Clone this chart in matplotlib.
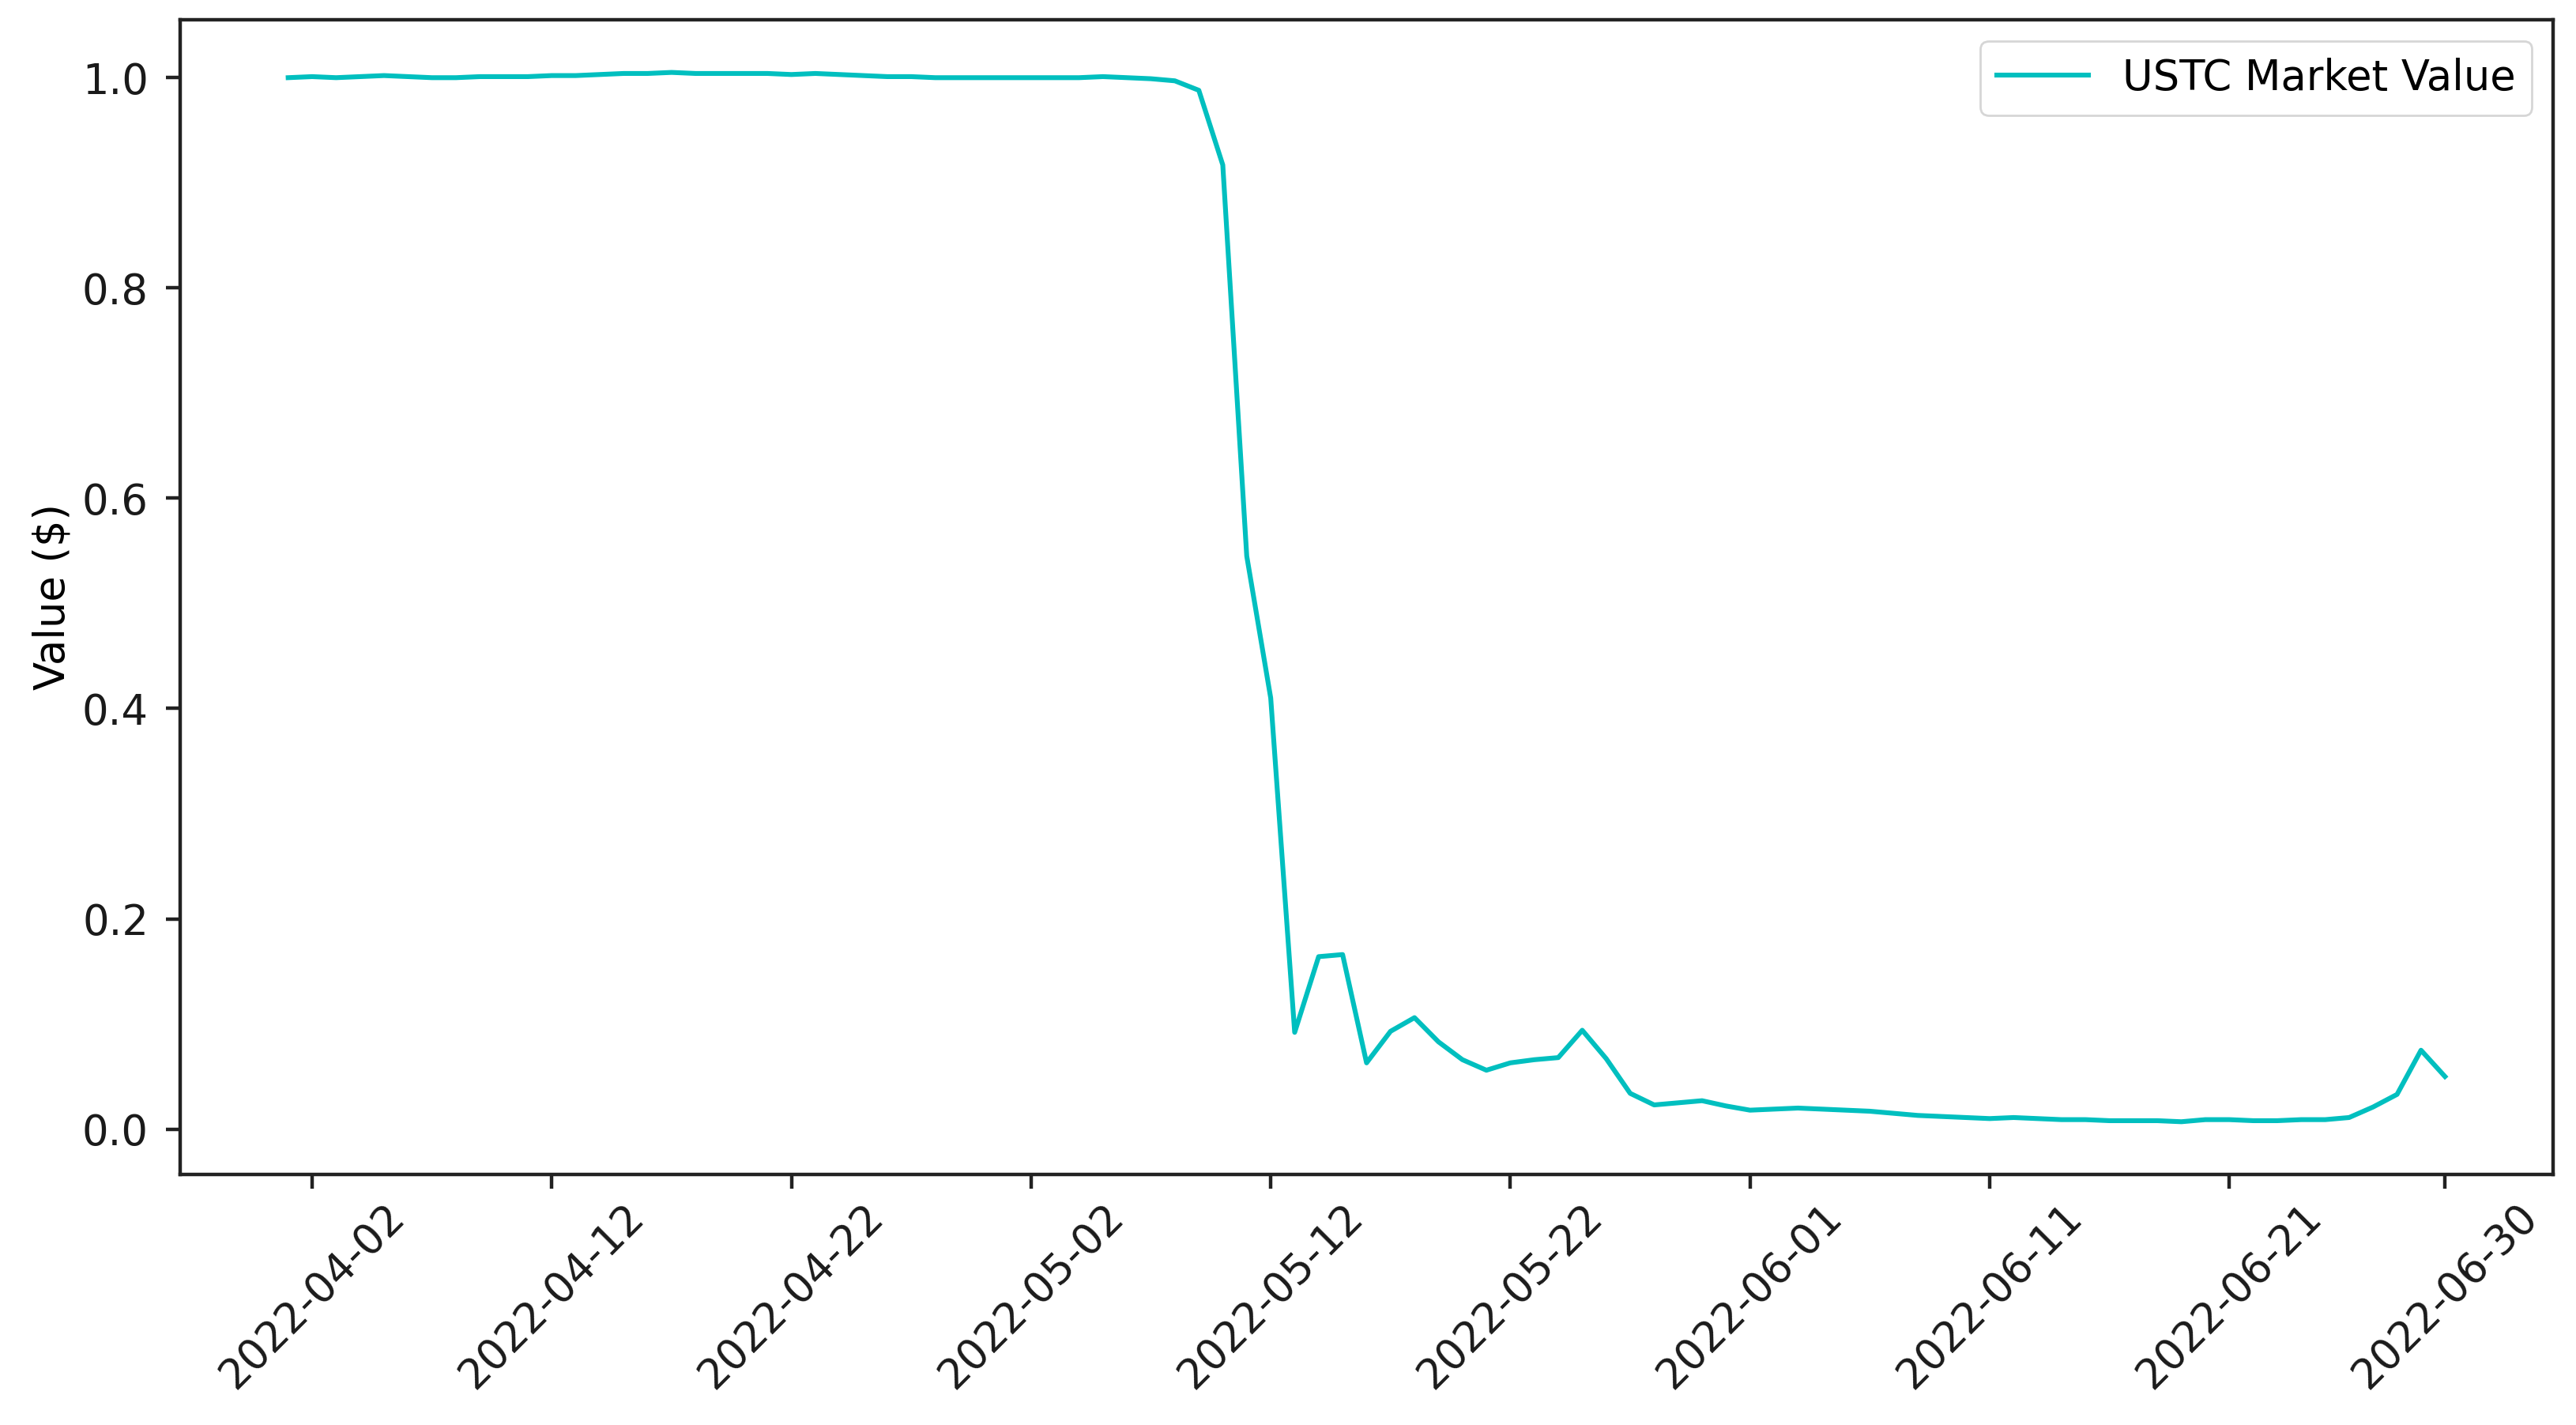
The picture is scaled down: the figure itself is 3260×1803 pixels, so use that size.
import numpy as np
import pandas as pd
import matplotlib
matplotlib.use('Agg')
import matplotlib.pyplot as plt
import matplotlib.dates as mdates

############ data ############
dates = pd.date_range('2022-04-01', '2022-06-30', freq='D')
ustc = [1.000, 1.001, 1.000, 1.001, 1.002, 1.001, 1.000, 1.000, 1.001, 1.001,
        1.001, 1.002, 1.002, 1.003, 1.004, 1.004, 1.005, 1.004, 1.004, 1.004,
        1.004, 1.003, 1.004, 1.003, 1.002, 1.001, 1.001, 1.000, 1.000, 1.000,
        1.000, 1.000, 1.000, 1.000, 1.001, 1.000, 0.999, 0.997,
        0.988, 0.917, 0.545, 0.410, 0.092, 0.164, 0.166, 0.063, 0.093, 0.106,
        0.083, 0.066, 0.056, 0.063, 0.066, 0.068, 0.094, 0.067, 0.034, 0.023,
        0.025, 0.027, 0.022, 0.018, 0.019, 0.020, 0.019, 0.018, 0.017, 0.015,
        0.013, 0.012, 0.011, 0.010, 0.011, 0.010, 0.009, 0.009, 0.008, 0.008,
        0.008, 0.007, 0.009, 0.009, 0.008, 0.008, 0.009, 0.009, 0.011, 0.021,
        0.033, 0.075, 0.050]
tick_dates = ['2022-04-02', '2022-04-12', '2022-04-22', '2022-05-02', '2022-05-12',
              '2022-05-22', '2022-06-01', '2022-06-11', '2022-06-21', '2022-06-30']

############ plot ############
plt.rcParams['font.size'] = 19
fig = plt.figure(figsize=(16.3, 9.015), dpi=200)
ax = fig.add_axes([0.070, 0.176, 0.921, 0.810])
ax.plot(dates, ustc, color='c', lw=2.2, label='USTC Market Value')
ax.set_ylabel('Value ($)', labelpad=4)
ax.set_xticks(pd.to_datetime(tick_dates))
ax.xaxis.set_major_formatter(mdates.DateFormatter('%Y-%m-%d'))
plt.setp(ax.get_xticklabels(), rotation=45)
ax.tick_params(length=6.5, width=1.6, colors='#222222', labelcolor='#1a1a1a')
ax.tick_params(axis='y', pad=8)
for s in ax.spines.values():
    s.set_linewidth(1.6)
    s.set_color('#222222')
ax.legend(loc='upper right', handlelength=2.2)
fig.savefig('out.png', dpi=200)
